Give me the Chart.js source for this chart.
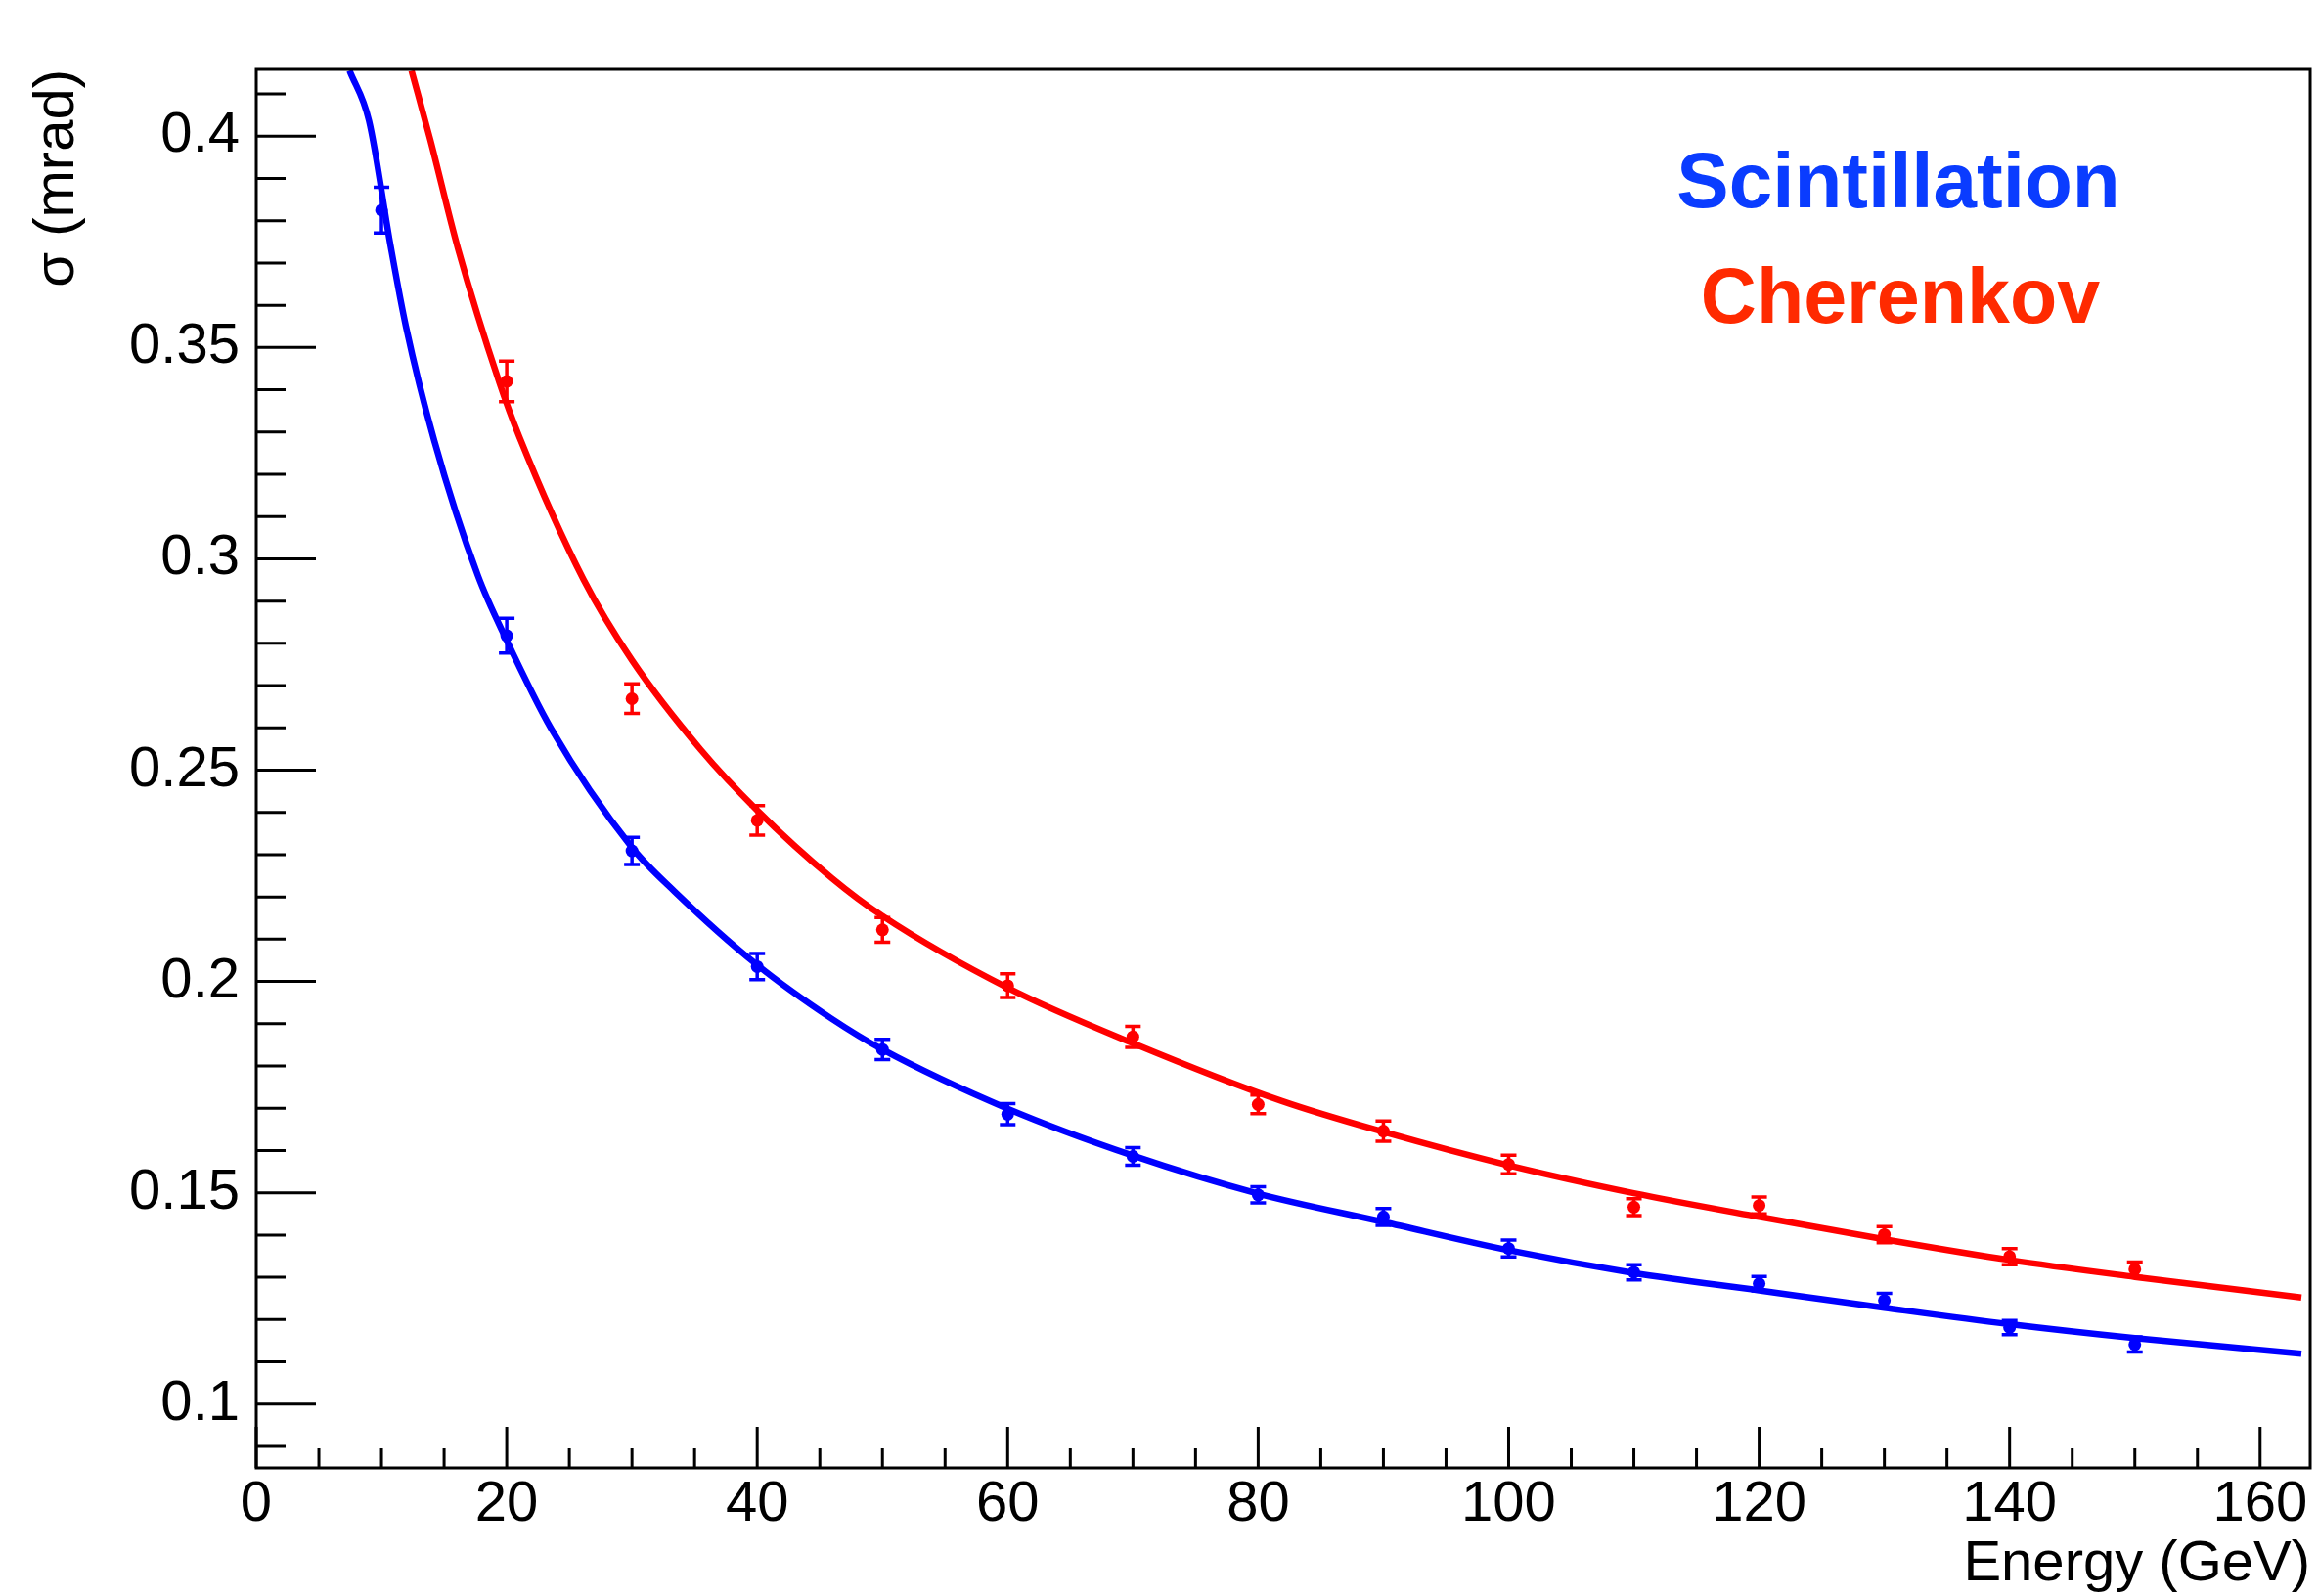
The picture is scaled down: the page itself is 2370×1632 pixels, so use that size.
<!DOCTYPE html>
<html>
<head>
<meta charset="utf-8">
<script src="https://cdn.jsdelivr.net/npm/chart.js@4.4.1/dist/chart.umd.min.js"></script>
<style>
  html, body { margin: 0; padding: 0; background: #ffffff; }
  canvas { display: block; }
</style>
</head>
<body>
<canvas id="c" width="2370" height="1632"></canvas>
<script>
// ---------------- data ----------------
const scintEnergy = [10, 20, 30, 40, 50, 60, 70, 80, 90, 100, 110, 120, 130, 140, 150];
const scintSigma  = [0.3825, 0.2818, 0.2309, 0.2035, 0.1839, 0.1686, 0.1586, 0.1495, 0.1443, 0.1368, 0.1312, 0.1285, 0.1245, 0.1181, 0.1141];
const scintError  = [0.0054, 0.0041, 0.0032, 0.0031, 0.0024, 0.0025, 0.0021, 0.0019, 0.0020, 0.0020, 0.0018, 0.0017, 0.0017, 0.0017, 0.0018];

const cherEnergy = [20, 30, 40, 50, 60, 70, 80, 90, 100, 110, 120, 130, 140, 150];
const cherSigma  = [0.3420, 0.2669, 0.2381, 0.2122, 0.1990, 0.1869, 0.1709, 0.1646, 0.1567, 0.1466, 0.1470, 0.1401, 0.1349, 0.1319];
const cherError  = [0.0048, 0.0035, 0.0035, 0.0029, 0.0028, 0.0025, 0.0022, 0.0024, 0.0022, 0.0020, 0.0020, 0.0019, 0.0019, 0.0017];

// fitted curves at these energies
const scintFitEnergy = [7.45, 9.0, 10.73, 11.95, 14.2, 17.7, 20, 23.55, 30, 33.4, 40, 45.94, 50, 60, 70, 80, 90, 100, 110, 120, 130, 140, 150, 163.3];
const scintFitSigma  = [0.4155, 0.4037, 0.374, 0.355, 0.3281, 0.296, 0.2807, 0.2598, 0.2317, 0.2213, 0.2039, 0.1912, 0.1839, 0.1699, 0.1588, 0.1498, 0.1431, 0.1364, 0.1310, 0.1269, 0.1228, 0.1189, 0.1156, 0.1119];

const cherFitEnergy = [12.4, 13.9, 16.1, 19.4, 21.0, 26.15, 30, 35.5, 40, 45.94, 50, 60, 70, 81.9, 90, 100, 110, 120, 130, 140, 150, 163.3];
const cherFitSigma  = [0.4155, 0.3991, 0.3735, 0.3418, 0.3289, 0.295, 0.276, 0.2548, 0.2405, 0.2245, 0.2155, 0.1985, 0.1854, 0.1717, 0.1644, 0.1565, 0.1499, 0.1443, 0.1390, 0.1341, 0.1301, 0.1252];

const xTickValues = [0, 20, 40, 60, 80, 100, 120, 140, 160];
const xTickLabels = ['0', '20', '40', '60', '80', '100', '120', '140', '160'];
const yTickValues = [0.1, 0.15, 0.2, 0.25, 0.3, 0.35, 0.4];
const yTickLabels = ['0.1', '0.15', '0.2', '0.25', '0.3', '0.35', '0.4'];

const seriesNames = ['Scintillation', 'Cherenkov'];
const xTitle = 'Energy (GeV)';
const yTitle = 'σ (mrad)';

// ---------------- styling ----------------
const FONT = '"Liberation Sans", Arial, Helvetica, sans-serif';
const BLUE = '#0000ff', RED = '#ff0000';
const BLUE_TXT = '#0a3cff', RED_TXT = '#ff2a00';

const toXY = (xs, ys) => xs.map((v, i) => ({ x: v, y: ys[i] }));

const errorSets = [
  { xs: scintEnergy, ys: scintSigma, err: scintError, color: BLUE },
  { xs: cherEnergy,  ys: cherSigma,  err: cherError,  color: RED }
];

const rootStyle = {
  id: 'rootStyle',
  afterDatasetsDraw(chart) {
    const { ctx, scales: { x, y } } = chart;
    ctx.save();
    ctx.lineWidth = 3.5;
    errorSets.forEach(s => {
      ctx.strokeStyle = s.color;
      s.xs.forEach((e, i) => {
        const px = x.getPixelForValue(e);
        const top = y.getPixelForValue(s.ys[i] + s.err[i]);
        const bot = y.getPixelForValue(s.ys[i] - s.err[i]);
        ctx.beginPath();
        ctx.moveTo(px, top); ctx.lineTo(px, bot);
        ctx.moveTo(px - 8, top); ctx.lineTo(px + 8, top);
        ctx.moveTo(px - 8, bot); ctx.lineTo(px + 8, bot);
        ctx.stroke();
      });
    });
    ctx.restore();
  },
  afterDraw(chart) {
    const { ctx, chartArea: a, scales: { x, y } } = chart;
    ctx.save();
    ctx.strokeStyle = '#000';
    ctx.lineWidth = 3;
    // frame
    ctx.strokeRect(a.left, a.top, a.right - a.left, a.bottom - a.top);
    // x ticks (inward), major every 20, minor every 5
    ctx.beginPath();
    for (let k = 0; k * 5 <= x.max; k++) {
      const px = x.getPixelForValue(k * 5);
      const len = (k % 4 === 0) ? 42 : 20;
      ctx.moveTo(px, a.bottom); ctx.lineTo(px, a.bottom - len);
    }
    // y ticks (inward), major every 0.05, minor every 0.01
    for (let k = Math.ceil(y.min * 100 - 1e-9); k <= Math.floor(y.max * 100 + 1e-9); k++) {
      const py = y.getPixelForValue(k / 100);
      const len = (k % 5 === 0) ? 61 : 30;
      ctx.moveTo(a.left, py); ctx.lineTo(a.left + len, py);
    }
    ctx.stroke();
    // legend text
    ctx.textAlign = 'center';
    ctx.textBaseline = 'alphabetic';
    ctx.font = 'bold 80px ' + FONT;
    ctx.fillStyle = BLUE_TXT;
    ctx.fillText(seriesNames[0], 1941, 212);
    ctx.font = 'bold 79px ' + FONT;
    ctx.fillStyle = RED_TXT;
    ctx.fillText(seriesNames[1], 1943, 330);
    ctx.restore();
  }
};

new Chart(document.getElementById('c'), {
  data: {
    datasets: [
      { type: 'line', label: seriesNames[0] + ' fit', data: toXY(scintFitEnergy, scintFitSigma),
        borderColor: BLUE, borderWidth: 6.5, pointRadius: 0, cubicInterpolationMode: 'monotone', fill: false },
      { type: 'line', label: seriesNames[1] + ' fit', data: toXY(cherFitEnergy, cherFitSigma),
        borderColor: RED, borderWidth: 6.5, pointRadius: 0, cubicInterpolationMode: 'monotone', fill: false },
      { type: 'scatter', label: seriesNames[0], data: toXY(scintEnergy, scintSigma),
        backgroundColor: BLUE, borderColor: BLUE, pointRadius: 6.5, borderWidth: 0 },
      { type: 'scatter', label: seriesNames[1], data: toXY(cherEnergy, cherSigma),
        backgroundColor: RED, borderColor: RED, pointRadius: 6.5, borderWidth: 0 }
    ]
  },
  options: {
    responsive: false,
    animation: false,
    devicePixelRatio: 1,
    layout: { padding: { left: 0, top: 71, right: 8, bottom: 0 } },
    plugins: { legend: { display: false }, tooltip: { enabled: false } },
    scales: {
      x: {
        type: 'linear', min: 0, max: 164,
        afterFit(s) { s.height = 131; },
        afterBuildTicks(s) { s.ticks = xTickValues.map(v => ({ value: v })); },
        grid: { display: false, drawTicks: false },
        border: { display: false },
        ticks: {
          padding: 9, color: '#000', maxRotation: 0, autoSkip: false,
          font: { family: FONT, size: 58, lineHeight: 1 },
          callback: (v) => xTickLabels[xTickValues.indexOf(v)]
        },
        title: { display: true, text: xTitle, align: 'end', color: '#000',
          font: { family: FONT, size: 58, lineHeight: 1 }, padding: { top: 0, bottom: 3 } }
      },
      y: {
        type: 'linear', min: 0.0849, max: 0.4158,
        afterFit(s) { s.width = 262; },
        afterBuildTicks(s) { s.ticks = yTickValues.map(v => ({ value: v })); },
        grid: { display: false, drawTicks: false },
        border: { display: false },
        ticks: {
          padding: 17, color: '#000', autoSkip: false,
          font: { family: FONT, size: 58, lineHeight: 1 },
          callback: (v) => yTickLabels[yTickValues.indexOf(v)]
        },
        title: { display: true, text: yTitle, align: 'end', color: '#000',
          font: { family: FONT, size: 58, lineHeight: 1 }, padding: { top: 30, bottom: 0 } }
      }
    }
  },
  plugins: [rootStyle]
});
</script>
</body>
</html>
